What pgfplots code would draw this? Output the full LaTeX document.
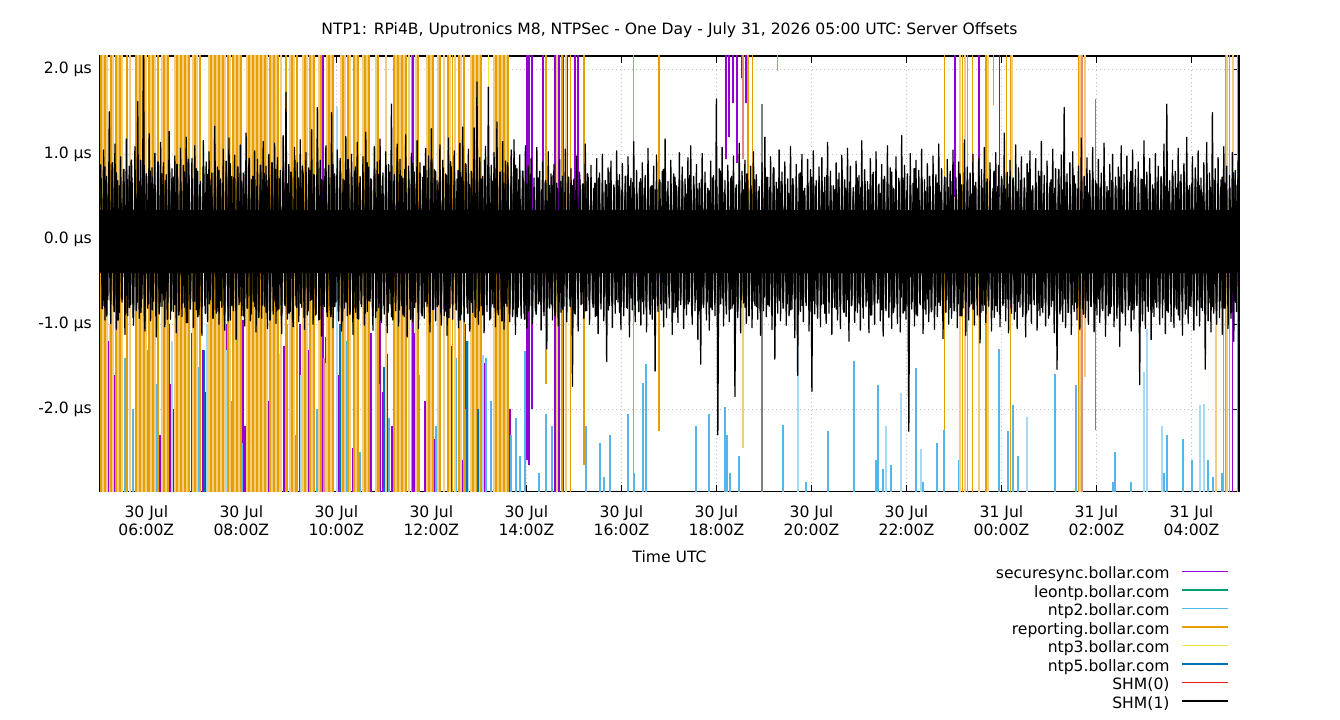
\documentclass[border=0pt]{standalone}
\usepackage{pgfplots}
\pgfplotsset{compat=1.18}
\usepackage{pgfplotstable}
\usepackage{fontspec}
\setmainfont{DejaVu Sans}
\newcommand\fnt{\fontsize{11.7pt}{13.5pt}\selectfont}
\definecolor{cpurple}{RGB}{148,0,211}
\definecolor{cteal}{RGB}{0,158,115}
\definecolor{csky}{RGB}{86,180,233}
\definecolor{corange}{RGB}{230,159,0}
\definecolor{cyellow}{RGB}{240,228,66}
\definecolor{cblue}{RGB}{0,114,178}
\definecolor{cred}{RGB}{229,30,16}
\definecolor{corangel}{RGB}{243,205,125}
\definecolor{cskyl}{RGB}{168,216,244}
\definecolor{csalmon}{RGB}{222,140,122}
\definecolor{cgray}{RGB}{128,128,128}
\definecolor{cgrid}{RGB}{190,190,190}

% SHM(1): alternating high / low samples (spiky envelope)
\pgfplotstableread[row sep=\\, header=false]{
0.88\\-0.82\\1.05\\-0.95\\0.74\\-0.71\\1.50\\-0.99\\0.81\\-0.78\\1.12\\-1.06\\0.69\\-0.86\\0.97\\-0.74\\0.79\\-1.12\\1.18\\-0.90\\
0.86\\-0.77\\0.72\\-1.01\\1.09\\-0.84\\1.62\\-0.93\\0.93\\-0.70\\2.50\\-1.08\\0.77\\-0.81\\1.24\\-0.96\\0.84\\-0.73\\1.01\\-1.15\\
0.70\\-0.88\\1.14\\-0.79\\0.90\\-1.03\\0.76\\-0.72\\1.27\\-0.94\\0.83\\-0.85\\0.98\\-1.10\\0.73\\-0.76\\1.07\\-0.91\\0.87\\-0.80\\
1.20\\-0.98\\0.75\\-0.75\\0.95\\-1.04\\1.10\\-0.83\\0.80\\-0.89\\0.68\\-1.13\\1.16\\-0.78\\0.91\\-0.97\\1.03\\-0.71\\0.78\\-0.92\\
1.33\\-0.87\\0.85\\-1.00\\0.71\\-0.80\\1.06\\-1.07\\0.92\\-0.74\\1.19\\-0.95\\0.74\\-0.84\\0.99\\-1.18\\0.82\\-0.77\\1.11\\-0.90\\
0.78\\-1.02\\1.25\\-0.81\\0.89\\-0.96\\0.70\\-0.73\\1.04\\-1.09\\0.94\\-0.86\\0.76\\-0.93\\1.15\\-0.79\\0.86\\-1.05\\1.00\\-0.75\\
0.73\\-0.88\\1.13\\-0.99\\0.96\\-0.82\\0.81\\-1.11\\1.22\\-0.76\\1.73\\-0.94\\0.88\\-0.85\\0.72\\-1.03\\1.08\\-0.78\\0.90\\-0.97\\
1.17\\-0.80\\0.79\\-1.06\\1.02\\-0.89\\0.84\\-0.72\\1.29\\-1.00\\0.75\\-0.87\\1.55\\-0.95\\0.93\\-1.14\\0.69\\-0.79\\1.10\\-0.91\\
0.87\\-0.83\\1.49\\-1.04\\0.77\\-0.74\\1.05\\-0.96\\0.95\\-1.08\\0.71\\-0.81\\1.21\\-0.90\\0.83\\-0.77\\1.00\\-1.12\\0.80\\-0.86\\
1.14\\-0.94\\0.74\\-0.79\\0.97\\-1.01\\1.26\\-0.85\\0.85\\-0.73\\0.70\\-1.07\\1.09\\-0.92\\0.91\\-0.80\\1.18\\-0.98\\0.78\\-0.88\\
1.03\\-1.10\\0.88\\-0.76\\1.59\\-0.95\\0.76\\-0.84\\1.12\\-1.02\\0.94\\-0.78\\0.72\\-0.91\\1.23\\-1.15\\0.86\\-0.82\\1.01\\-0.97\\
0.79\\-0.74\\1.16\\-1.05\\0.90\\-0.87\\0.73\\-0.93\\1.07\\-0.79\\0.98\\-1.09\\1.30\\-0.83\\0.82\\-0.96\\0.69\\-0.77\\1.11\\-1.01\\
0.93\\-0.90\\0.77\\-1.13\\1.19\\-0.81\\0.85\\-0.94\\1.04\\-0.75\\0.71\\-1.04\\1.13\\-0.88\\1.32\\-0.97\\0.89\\-0.80\\1.06\\-1.08\\
0.80\\-0.86\\1.31\\-0.92\\1.85\\-1.00\\0.96\\-0.78\\0.74\\-1.10\\1.09\\-0.85\\1.79\\-0.95\\0.87\\-0.76\\1.02\\-1.03\\1.38\\-0.89\\
0.78\\-0.82\\1.15\\-1.06\\0.92\\-0.79\\0.70\\-0.97\\1.05\\-0.91\\1.17\\-1.12\\0.83\\-0.80\\0.99\\-0.93\\0.75\\-0.87\\1.10\\-1.05\\
0.86\\-0.78\\0.95\\-0.99\\0.72\\-0.84\\1.08\\-0.76\\0.80\\-1.07\\0.91\\-0.90\\0.68\\-1.29\\1.03\\-0.81\\0.77\\-0.95\\0.88\\-0.73\\
0.66\\-1.02\\0.94\\-0.86\\0.74\\-0.79\\1.06\\-0.97\\0.61\\-0.70\\0.83\\-1.73\\0.71\\-0.88\\0.98\\-1.08\\0.79\\-0.77\\0.65\\-0.93\\
1.12\\-0.84\\0.73\\-1.00\\0.87\\-0.75\\0.60\\-0.91\\0.95\\-1.11\\0.78\\-0.82\\1.00\\-0.96\\0.69\\-1.44\\0.84\\-0.78\\0.92\\-1.04\\
0.64\\-0.87\\1.04\\-0.74\\0.76\\-1.06\\0.89\\-0.90\\0.58\\-0.80\\0.97\\-1.15\\0.72\\-0.83\\1.15\\-0.97\\0.81\\-0.72\\0.67\\-1.01\\
0.90\\-0.88\\0.75\\-1.09\\1.07\\-0.79\\0.62\\-0.94\\0.86\\-1.55\\0.99\\-0.85\\0.70\\-0.76\\0.80\\-1.03\\1.18\\-0.92\\0.68\\-0.81\\
0.93\\-1.12\\0.77\\-0.86\\0.63\\-0.98\\1.02\\-0.77\\0.85\\-1.05\\0.71\\-0.89\\0.96\\-0.73\\1.10\\-1.00\\0.74\\-0.84\\0.88\\-1.18\\
0.66\\-1.47\\1.01\\-0.80\\0.79\\-0.95\\0.60\\-1.07\\0.92\\-0.83\\0.75\\-0.90\\1.65\\-2.30\\0.83\\-0.76\\1.08\\-1.02\\0.69\\-0.88\\
0.87\\-0.97\\0.72\\-0.81\\0.98\\-1.85\\0.64\\-0.92\\1.13\\-1.10\\0.80\\-0.75\\0.93\\-0.99\\0.70\\-0.86\\0.86\\-1.04\\1.03\\-0.78\\
0.76\\-0.94\\0.62\\-1.13\\0.90\\-0.84\\1.20\\-0.91\\0.73\\-0.79\\0.97\\-1.06\\0.84\\-1.41\\0.67\\-0.87\\1.05\\-0.96\\0.79\\-0.74\\
0.91\\-1.01\\0.71\\-0.90\\1.09\\-0.82\\0.64\\-1.16\\0.88\\-1.60\\0.77\\-0.85\\1.00\\-0.97\\0.60\\-0.78\\0.94\\-1.08\\0.82\\-1.79\\
1.04\\-0.88\\0.69\\-0.93\\0.85\\-1.03\\0.96\\-0.76\\0.73\\-0.99\\1.14\\-0.87\\0.80\\-1.12\\0.63\\-0.80\\0.90\\-0.95\\0.78\\-1.05\\
0.99\\-0.83\\0.70\\-0.91\\1.07\\-1.20\\0.86\\-0.77\\0.61\\-0.98\\0.92\\-0.86\\0.75\\-1.07\\1.16\\-0.93\\0.82\\-0.79\\0.68\\-1.10\\
0.95\\-0.89\\0.79\\-1.00\\1.03\\-0.75\\0.65\\-0.96\\0.88\\-1.14\\0.74\\-0.84\\1.10\\-0.92\\0.84\\-1.05\\0.60\\-0.80\\0.97\\-0.99\\
0.72\\-1.09\\1.22\\-0.87\\0.87\\-0.94\\0.77\\-2.26\\1.01\\-0.82\\0.66\\-1.02\\0.93\\-0.90\\0.81\\-0.77\\1.06\\-1.11\\0.70\\-0.88\\
0.89\\-0.97\\0.62\\-0.83\\0.98\\-1.06\\0.76\\-0.91\\1.12\\-0.78\\0.83\\-1.17\\0.69\\-0.86\\0.94\\-1.00\\0.80\\-0.93\\1.05\\-0.80\\
0.73\\-1.04\\0.91\\-0.90\\0.64\\-0.81\\1.17\\-1.13\\0.85\\-0.95\\0.78\\-0.76\\1.00\\-1.01\\0.67\\-0.89\\0.95\\-1.22\\0.82\\-0.84\\
1.08\\-0.98\\0.71\\-0.79\\0.90\\-1.08\\0.60\\-0.92\\1.02\\-0.85\\0.87\\-1.03\\0.74\\-0.78\\1.25\\-0.96\\0.79\\-1.10\\0.93\\-0.87\\
0.68\\-0.94\\1.11\\-1.05\\0.84\\-0.80\\0.97\\-0.91\\0.72\\-1.15\\0.89\\-0.83\\1.04\\-0.99\\0.63\\-0.77\\0.95\\-1.07\\0.80\\-0.90\\
1.15\\-0.86\\0.75\\-1.02\\0.92\\-0.93\\0.66\\-0.79\\1.06\\-1.10\\0.83\\-1.53\\0.70\\-0.88\\0.99\\-0.97\\1.55\\-1.04\\0.77\\-0.81\\
0.90\\-1.12\\1.03\\-0.85\\0.65\\-0.95\\0.86\\-1.06\\1.19\\-0.82\\0.74\\-0.92\\0.96\\-1.00\\0.81\\-0.76\\1.08\\-1.09\\0.69\\-0.89\\
0.94\\-0.98\\0.78\\-0.84\\1.13\\-1.14\\0.62\\-0.90\\0.88\\-0.79\\1.00\\-1.03\\0.73\\-0.93\\0.85\\-1.26\\1.10\\-0.87\\0.76\\-1.01\\
0.98\\-0.83\\0.67\\-1.08\\1.05\\-0.94\\0.82\\-0.78\\0.91\\-1.71\\0.71\\-0.96\\1.16\\-1.05\\0.79\\-0.85\\0.95\\-1.18\\0.64\\-0.91\\
1.01\\-0.80\\0.86\\-1.00\\0.74\\-0.92\\1.12\\-1.11\\1.59\\-0.86\\0.69\\-0.97\\0.93\\-1.04\\0.80\\-0.82\\1.07\\-0.95\\0.76\\-1.13\\
0.89\\-0.88\\1.20\\-0.99\\0.63\\-0.79\\0.97\\-1.07\\0.84\\-0.90\\1.04\\-1.02\\0.72\\-0.84\\0.90\\-1.53\\1.14\\-0.96\\0.78\\-1.09\\
1.49\\-0.87\\0.83\\-1.00\\0.96\\-0.92\\0.70\\-1.12\\1.09\\-0.81\\0.86\\-1.05\\0.75\\-0.93\\1.02\\-1.20\\0.81\\-0.85\\0.92\\-0.98\\
}\band

% SHM(1): further samples (dense inner envelope)
\pgfplotstableread[row sep=\\, header=false]{
0.72\\-0.78\\0.85\\-0.90\\0.66\\-0.72\\0.90\\-0.85\\0.78\\-0.95\\0.63\\-0.70\\0.82\\-0.88\\0.70\\-0.80\\0.93\\-0.92\\0.75\\-0.74\\0.68\\-0.86\\0.87\\-0.97\\0.74\\-0.76\\0.80\\-0.83\\0.65\\-0.90\\0.91\\-0.79\\0.77\\-0.71\\0.69\\-0.94\\0.84\\-0.84\\0.73\\-0.77\\
0.88\\-0.89\\0.67\\-0.75\\0.79\\-0.98\\0.94\\-0.82\\0.71\\-0.73\\0.83\\-0.91\\0.64\\-0.80\\0.86\\-0.87\\0.76\\-0.76\\0.70\\-0.93\\0.92\\-0.85\\0.81\\-0.72\\0.66\\-0.89\\0.78\\-0.96\\0.89\\-0.78\\0.73\\-0.84\\0.85\\-0.74\\0.68\\-0.90\\0.80\\-0.81\\0.95\\-0.88\\
0.74\\-0.79\\0.62\\-0.92\\0.87\\-0.77\\0.77\\-0.86\\0.69\\-0.95\\0.90\\-0.73\\0.82\\-0.83\\0.71\\-0.90\\0.84\\-0.78\\0.65\\-0.87\\0.79\\-0.97\\0.93\\-0.80\\0.72\\-0.75\\0.86\\-0.92\\0.67\\-0.84\\0.81\\-0.71\\0.76\\-0.89\\0.91\\-0.94\\0.70\\-0.77\\0.83\\-0.86\\
0.64\\-0.91\\0.88\\-0.79\\0.75\\-0.85\\0.80\\-0.96\\0.69\\-0.74\\0.94\\-0.88\\0.73\\-0.81\\0.85\\-0.93\\0.66\\-0.76\\0.78\\-0.87\\0.90\\-0.72\\0.71\\-0.90\\0.83\\-0.84\\0.76\\-0.95\\0.63\\-0.78\\0.87\\-0.86\\0.79\\-0.91\\0.68\\-0.75\\0.92\\-0.83\\0.74\\-0.89\\
0.82\\-0.77\\0.70\\-0.94\\0.89\\-0.80\\0.65\\-0.86\\0.77\\-0.90\\0.86\\-0.73\\0.72\\-0.97\\0.95\\-0.82\\0.80\\-0.79\\0.67\\-0.88\\0.84\\-0.85\\0.75\\-0.92\\0.91\\-0.76\\0.69\\-0.83\\0.81\\-0.95\\0.73\\-0.78\\0.88\\-0.87\\0.64\\-0.74\\0.78\\-0.91\\0.85\\-0.84\\
0.71\\-0.89\\0.93\\-0.77\\0.76\\-0.93\\0.68\\-0.80\\0.83\\-0.86\\0.79\\-0.96\\0.66\\-0.75\\0.90\\-0.88\\0.74\\-0.82\\0.87\\-0.91\\0.70\\-0.78\\0.80\\-0.94\\0.65\\-0.84\\0.76\\-0.79\\0.61\\-0.88\\0.72\\-0.73\\0.58\\-0.85\\0.69\\-0.80\\0.63\\-0.76\\0.75\\-0.90\\
0.60\\-0.74\\0.68\\-0.82\\0.55\\-0.68\\0.73\\-0.79\\0.63\\-0.87\\0.58\\-0.70\\0.70\\-0.76\\0.65\\-0.84\\0.77\\-0.72\\0.59\\-0.80\\0.66\\-0.90\\0.72\\-0.75\\0.56\\-0.67\\0.64\\-0.83\\0.79\\-0.78\\0.61\\-0.71\\0.69\\-0.86\\0.57\\-0.74\\0.74\\-0.81\\0.62\\-0.69\\
0.67\\-0.77\\0.54\\-0.85\\0.71\\-0.73\\0.60\\-0.80\\0.76\\-0.88\\0.63\\-0.70\\0.58\\-0.78\\0.69\\-0.83\\0.82\\-0.75\\0.56\\-0.68\\0.65\\-0.86\\0.73\\-0.79\\0.61\\-0.72\\0.68\\-0.81\\0.53\\-0.76\\0.75\\-0.89\\0.64\\-0.71\\0.59\\-0.84\\0.70\\-0.77\\0.66\\-0.73\\
0.57\\-0.80\\0.72\\-0.74\\0.62\\-0.87\\0.80\\-0.69\\0.55\\-0.78\\0.67\\-0.82\\0.74\\-0.76\\0.60\\-0.85\\0.69\\-0.71\\0.58\\-0.80\\0.77\\-0.90\\0.63\\-0.73\\0.70\\-0.79\\0.56\\-0.84\\0.66\\-0.68\\0.73\\-0.77\\0.61\\-0.86\\0.84\\-0.75\\0.59\\-0.72\\0.68\\-0.81\\
0.64\\-0.76\\0.54\\-0.83\\0.71\\-0.70\\0.60\\-0.88\\0.78\\-0.78\\0.57\\-0.74\\0.66\\-0.85\\0.73\\-0.72\\0.62\\-0.80\\0.69\\-0.77\\0.55\\-0.87\\0.75\\-0.73\\0.63\\-0.69\\0.58\\-0.82\\0.70\\-0.79\\0.81\\-0.86\\0.60\\-0.71\\0.67\\-0.78\\0.56\\-0.84\\0.72\\-0.75\\
0.61\\-0.80\\0.68\\-0.72\\0.58\\-0.89\\0.76\\-0.77\\0.63\\-0.70\\0.54\\-0.83\\0.70\\-0.81\\0.65\\-0.74\\0.79\\-0.86\\0.59\\-0.76\\0.67\\-0.68\\0.72\\-0.84\\0.57\\-0.79\\0.64\\-0.73\\0.83\\-0.88\\0.60\\-0.75\\0.69\\-0.82\\0.56\\-0.70\\0.74\\-0.85\\0.62\\-0.78\\
0.66\\-0.74\\0.55\\-0.87\\0.73\\-0.71\\0.61\\-0.80\\0.68\\-0.84\\0.58\\-0.76\\0.77\\-0.90\\0.64\\-0.73\\0.70\\-0.79\\0.53\\-0.82\\0.63\\-0.69\\0.75\\-0.86\\0.60\\-0.77\\0.67\\-0.72\\0.57\\-0.83\\0.80\\-0.78\\0.62\\-0.88\\0.71\\-0.75\\0.59\\-0.70\\0.65\\-0.81\\
0.72\\-0.85\\0.56\\-0.73\\0.69\\-0.79\\0.61\\-0.87\\0.78\\-0.76\\0.58\\-0.71\\0.66\\-0.84\\0.74\\-0.80\\0.54\\-0.75\\0.63\\-0.89\\0.70\\-0.72\\0.60\\-0.78\\0.82\\-0.83\\0.57\\-0.70\\0.67\\-0.86\\0.64\\-0.77\\0.75\\-0.74\\0.59\\-0.81\\0.68\\-0.88\\0.62\\-0.72\\
0.55\\-0.79\\0.71\\-0.84\\0.65\\-0.70\\0.60\\-0.82\\0.76\\-0.77\\0.57\\-0.87\\0.69\\-0.73\\0.63\\-0.80\\0.73\\-0.85\\0.58\\-0.71\\0.66\\-0.78\\0.80\\-0.83\\0.61\\-0.75\\0.54\\-0.88\\0.70\\-0.72\\0.64\\-0.79\\0.77\\-0.86\\0.59\\-0.74\\0.67\\-0.81\\0.72\\-0.70\\
0.62\\-0.84\\0.56\\-0.76\\0.74\\-0.80\\0.60\\-0.89\\0.68\\-0.73\\0.79\\-0.82\\0.58\\-0.78\\0.65\\-0.85\\0.71\\-0.71\\0.63\\-0.80\\0.55\\-0.87\\0.76\\-0.75\\0.61\\-0.79\\0.69\\-0.84\\0.57\\-0.72\\0.73\\-0.81\\0.66\\-0.77\\0.60\\-0.86\\0.78\\-0.74\\0.64\\-0.80\\
}\bandb

% spike tables: time (h), lower end, upper end
\pgfplotstableread[row sep=\\]{
h lo hi\\
5.193 -5 -1.2\\ 5.341 -5 -1.6\\ 5.593 -5 -1.05\\ 5.888 -5 -0.95\\ 5.93 -5 -1.9\\ 6.288 -5 -2.3\\ 6.477 -5 -1.0\\ 6.519 -5 -1.7\\
6.583 -5 -2.0\\ 6.962 -5 -1.1\\ 7.004 -5 -2.4\\ 7.193 -5 -1.3\\ 7.256 -5 -1.8\\ 7.551 -5 -2.1\\ 7.677 -5 -1.0\\ 7.74 -5 -1.5\\
8.035 -5 -0.95\\ 8.077 -5 -2.2\\ 8.309 -5 -1.4\\ 8.519 -5 -1.05\\ 8.561 -5 -1.9\\ 8.772 -5 -2.5\\ 8.898 -5 -1.25\\ 9.088 -5 -1.7\\
9.235 -5 -1.0\\ 9.424 -5 -1.3\\ 9.488 -5 -2.0\\ 9.72 -5 5\\ 9.783 -5 -1.15\\ 10.035 -5 -1.6\\ 10.351 -5 -2.45\\ 10.73 -5 -1.1\\
10.919 -5 -0.95\\ 10.982 -5 -1.8\\ 11.067 -5 -1.35\\ 11.172 -5 -2.2\\ 11.403 -5 -1.5\\ 11.614 -5 5\\ 11.635 -5 -1.1\\ 11.866 -5 -1.9\\
12.055 -5 -2.35\\ 12.414 -5 -1.25\\ 12.666 -5 -2.6\\ 12.708 -5 -1.0\\ 12.877 -5 -1.7\\ 13.129 -5 -1.45\\ 13.656 -5 -2.0\\
14.014 -2.6 5\\ 14.056 -2.65 5\\ 14.119 -2.0 5\\ 14.351 0 5\\ 14.603 -5 5\\ 14.687 -5 5\\ 14.771 -5 5\\
14.855 0 5\\ 15.024 0 5\\ 15.087 0 5\\ 18.202 0.94 5\\ 18.266 1.2 5\\ 18.35 1.6 5\\ 18.434 0.9 5\\ 18.539 1.9 5\\ 18.623 1.6 5\\
23.023 0.5 5\\ 23.528 0.5 5\\ 23.95 0.5 5\\ 28.854 -5 0\\
}\tPU

\pgfplotstableread[row sep=\\]{
h lo hi\\
5.109 -5 -1.9\\ 5.299 -5 -2.3\\ 5.551 -5 -1.4\\ 5.72 -5 -2.0\\ 6.035 -5 -1.3\\ 6.077 -5 -2.1\\ 6.225 -5 -1.7\\ 6.814 -5 -2.6\\
7.088 -5 -1.5\\ 7.467 -5 -2.2\\ 7.782 -5 -1.9\\ 8.014 -5 -2.4\\ 8.435 -5 -1.8\\ 8.961 -5 -1.0\\ 9.151 -5 -2.3\\ 9.593 -5 -2.0\\
10.224 -5 -1.2\\ 10.498 -5 -2.5\\ 10.898 -5 -1.7\\ 11.109 -5 -2.1\\ 11.74 -5 -1.6\\ 12.098 -5 -2.2\\ 12.519 -5 -1.4\\ 12.729 -5 -2.0\\
13.151 -5 -1.4\\ 13.256 -5 -1.9\\ 13.677 -5 -2.3\\ 13.424 -5 -2.0\\ 13.782 -5 -2.1\\ 13.866 -5 -2.55\\ 13.972 -5 -1.32\\ 14.266 -5 -2.75\\
14.414 -5 -2.06\\ 14.54 -5 -2.2\\ 15.256 -5 -2.2\\ 15.55 -5 -2.4\\ 15.635 -5 -2.8\\ 15.761 -5 -2.3\\ 16.14 -5 -2.05\\ 16.266 -5 -2.75\\
16.455 -5 -1.69\\ 16.518 -5 -1.47\\ 17.571 -5 -2.2\\ 17.845 -5 -2.05\\ 18.181 -5 -1.97\\ 18.223 -5 -2.3\\ 18.287 -5 -2.75\\ 18.476 -5 -2.55\\
19.402 -5 -2.19\\ 19.887 -5 -2.85\\ 20.35 -5 -2.25\\ 20.897 -5 -1.43\\ 21.36 -5 -2.6\\ 21.402 -5 -1.71\\ 21.507 -5 -2.7\\ 21.676 -5 -2.65\\
22.202 -5 -1.52\\ 22.349 -5 -2.85\\ 22.644 -5 -2.4\\ 22.792 -5 -2.24\\ 23.107 -5 -2.6\\ 23.95 -5 -1.29\\ 24.139 -5 -2.26\\ 24.244 -5 -1.95\\
24.349 -5 -2.55\\ 25.128 -5 -1.58\\ 25.57 -5 -1.71\\ 26.349 -5 -2.85\\ 26.391 -5 -2.5\\ 26.728 -5 -2.85\\ 27.422 -5 -2.75\\ 27.485 -5 -2.3\\
27.822 -5 -2.35\\ 28.012 -5 -2.6\\ 28.349 -5 -2.6\\ 28.454 -5 -2.8\\ 28.644 -5 -2.75\\
}\tSK

\pgfplotstableread[row sep=\\]{
h lo hi\\
5.235 -5 -1.0\\ 6.0 -5 -0.9\\ 6.541 -5 -1.2\\ 7.277 -5 -1.0\\ 7.698 -5 -1.3\\ 8.267 -5 -1.15\\ 8.793 -5 -1.35\\ 9.256 -5 -1.6\\
9.761 -5 -1.45\\ 10.014 -5 1.56\\ 10.666 -5 -1.05\\ 11.277 -5 -1.25\\ 12.266 -5 -1.0\\ 12.771 -5 -1.2\\ 13.087 -5 -1.36\\ 19.718 -5 -0.55\\
21.57 -5 -2.2\\ 21.886 -5 -1.81\\ 22.307 -5 -2.47\\ 24.539 -5 -2.09\\ 27.0 -5 -1.56\\ 27.064 -5 -1.06\\ 27.38 -5 -2.2\\ 28.18 -5 -1.95\\
28.265 -5 -1.94\\
}\tSL

\pgfplotstableread[row sep=\\]{
h lo hi\\
5.046 -5 5\\ 5.13 -5 5\\ 5.257 -5 5\\ 5.362 -5 5\\ 5.446 -5 5\\ 5.593 -5 5\\ 5.783 -5 5\\ 5.867 -5 5\\ 5.951 -5 5\\ 6.056 -5 5\\
6.141 -5 5\\ 6.246 -5 5\\ 6.372 -5 5\\ 6.456 -5 5\\ 6.646 -5 5\\ 6.73 -5 5\\ 6.814 -5 5\\ 6.898 -5 5\\ 7.025 -5 5\\ 7.13 -5 5\\
7.362 -5 5\\ 7.446 -5 5\\ 7.53 -5 5\\ 7.614 -5 5\\ 7.719 -5 5\\ 7.825 -5 5\\ 7.909 -5 5\\ 7.993 -5 5\\ 8.161 -5 5\\ 8.246 -5 5\\
8.33 -5 5\\ 8.414 -5 5\\ 8.498 -5 5\\ 8.604 -5 5\\ 8.688 -5 5\\ 8.772 -5 5\\ 8.94 -5 5\\ 9.067 -5 5\\ 9.172 -5 5\\ 9.34 -5 5\\
9.446 -5 5\\ 9.53 -5 5\\ 9.677 -5 5\\ 9.845 -5 5\\ 9.93 -5 5\\ 10.14 -5 5\\ 10.245 -5 5\\ 10.372 -5 5\\ 10.456 -5 5\\ 10.603 -5 5\\
10.687 -5 5\\ 10.877 -5 5\\ 11.214 -5 5\\ 11.298 -5 5\\ 11.382 -5 5\\ 11.466 -5 5\\ 11.572 -5 5\\ 11.719 -5 5\\ 11.95 -5 5\\ 12.035 -5 5\\
12.182 -5 5\\ 12.35 -5 5\\ 12.435 -5 5\\ 12.582 -5 5\\ 12.687 -5 5\\ 12.877 -5 5\\ 12.961 -5 5\\ 13.045 -5 5\\ 13.361 -5 5\\ 13.445 -5 5\\
13.529 -5 5\\ 13.613 -5 5\\
14.413 -1.7 5\\ 14.75 -5 5\\ 14.919 -5 5\\ 15.213 -2.65 5\\ 16.245 -5 5\\ 16.792 -2.26 5\\ 18.665 0 5\\ 18.75 -0.85 5\\ 19.277 1.98 5\\
22.792 -2.24 5\\ 23.17 -5 5\\ 23.276 -5 5\\ 23.381 -5 5\\ 23.675 -5 5\\ 23.823 1.58 5\\ 24.097 0 5\\ 24.181 -5 5\\ 25.612 -5 5\\
28.665 -5 0\\ 28.707 -5 5\\ 28.791 -5 5\\ 28.96 -5 5\\
}\tOS

\pgfplotstableread[row sep=\\]{
h lo hi\\
5.088 -5 5\\ 5.172 -5 5\\ 5.299 -5 5\\ 5.404 -5 5\\ 5.488 -5 5\\ 5.657 -5 5\\ 5.825 -5 5\\ 5.909 -5 5\\ 5.993 -5 5\\ 6.099 -5 5\\
6.183 -5 5\\ 6.33 -5 5\\ 6.414 -5 5\\ 6.604 -5 5\\ 6.688 -5 5\\ 6.772 -5 5\\ 6.856 -5 5\\ 6.983 -5 5\\ 7.067 -5 5\\ 7.319 -5 5\\
7.404 -5 5\\ 7.488 -5 5\\ 7.572 -5 5\\ 7.656 -5 5\\ 7.761 -5 5\\ 7.867 -5 5\\ 7.951 -5 5\\ 8.119 -5 5\\ 8.204 -5 5\\ 8.288 -5 5\\
8.372 -5 5\\ 8.456 -5 5\\ 8.54 -5 5\\ 8.646 -5 5\\ 8.73 -5 5\\ 8.835 -5 5\\ 9.025 -5 5\\ 9.109 -5 5\\ 9.298 -5 5\\ 9.382 -5 5\\
9.488 -5 5\\ 9.635 -5 5\\ 9.803 -5 5\\ 9.888 -5 5\\ 10.098 -5 5\\ 10.182 -5 5\\ 10.288 -5 5\\ 10.414 -5 5\\ 10.561 -5 5\\ 10.645 -5 5\\
10.835 -5 5\\ 11.045 -5 5\\ 11.256 -5 5\\ 11.34 -5 5\\ 11.424 -5 5\\ 11.529 -5 5\\ 11.677 -5 5\\ 11.908 -5 5\\ 11.993 -5 5\\ 12.14 -5 5\\
12.266 -5 5\\ 12.393 -5 5\\ 12.498 -5 5\\ 12.624 -5 5\\ 12.835 -5 5\\ 12.919 -5 5\\ 13.003 -5 5\\ 13.319 -5 5\\ 13.403 -5 5\\ 13.487 -5 5\\
13.571 -5 5\\
14.645 -5 5\\ 14.834 -5 5\\ 18.56 -2.45 0\\ 23.129 -5 5\\ 23.234 -5 5\\ 23.528 -5 0\\ 23.717 -5 5\\ 24.223 0 5\\ 25.654 -5 5\\ 25.759 -1.62 5\\
28.517 -5 0\\ 28.749 -5 5\\ 28.875 0 5\\
}\tOL

\pgfplotstableread[row sep=\\]{
h lo hi\\
13.193 1.8 5\\
}\tYE

\pgfplotstableread[row sep=\\]{
h lo hi\\
7.215 -5 -1.3\\ 10.077 -5 -1.0\\ 11.003 -5 -1.5\\ 12.75 -5 -1.2\\ 12.982 -5 -2.0\\
}\tNB

\pgfplotstableread[row sep=\\]{
h lo hi\\
18.56 0.94 5\\ 25.696 -5 5\\ 9.74 -5 -1.4\\
}\tSA

\pgfplotstableread[row sep=\\]{
h lo hi\\
18.96 -5 1.59\\ 25.98 -2.24 1.65\\
}\tGR

\begin{document}
\begin{tikzpicture}
\path[use as bounding box] (-75pt,-171.375pt) rectangle (930pt,368.625pt);
\begin{axis}[
  at={(0,0)}, anchor=south west,
  scale only axis, width=854.25pt, height=326.625pt,
  xmin=5.025, xmax=29.0, ymin=-2.967, ymax=2.156,
  xtick={6,8,10,12,14,16,18,20,22,24,26,28},
  xticklabels={{30 Jul\\06:00Z},{30 Jul\\08:00Z},{30 Jul\\10:00Z},{30 Jul\\12:00Z},{30 Jul\\14:00Z},{30 Jul\\16:00Z},{30 Jul\\18:00Z},{30 Jul\\20:00Z},{30 Jul\\22:00Z},{31 Jul\\00:00Z},{31 Jul\\02:00Z},{31 Jul\\04:00Z}},
  ytick={-2,-1,0,1,2},
  yticklabels={-2.0 µs,-1.0 µs,0.0 µs,1.0 µs,2.0 µs},
  xticklabel style={font=\fnt, align=center, anchor=north, inner sep=0pt, yshift=-10.6pt},
  yticklabel style={font=\fnt, anchor=east, inner sep=0pt, xshift=-6pt},
  tick align=inside, major tick length=4.9pt,
  tick style={black, line width=0.75pt},
  minor tick num=0,
  axis line style={black, line width=1pt},
  grid=major,
  major grid style={cgrid, line width=0.6pt, dash pattern=on 0.8pt off 2.2pt},
  title={NTP1: RPi4B, Uputronics M8, NTPSec - One Day - July 31, 2026 05:00 UTC: Server Offsets},
  title style={font=\fnt, at={(axis description cs:0.5,1.032)}, anchor=base, inner sep=0pt},
  xlabel={Time UTC},
  xlabel style={font=\fnt, at={(axis description cs:0.5,-0.1619)}, anchor=base, inner sep=0pt},
  legend style={draw=none, fill=none, inner sep=0pt, outer sep=0pt,
    at={(axis description cs:0.9912,-0.1705)}, anchor=north east,
    row sep=0pt, column sep=9pt, font=\fnt,
    nodes={inner sep=0pt, text height=9.6pt, text depth=4.3pt}},
  legend cell align=right,
  legend plot pos=right,
  legend image code/.code={\draw[#1, line width=1.1pt] (0pt,2.8pt) -- (34.5pt,2.8pt);},
]
\addplot[forget plot, draw=cpurple, line width=0.85pt, quiver={u=0, v=\thisrow{hi}-\thisrow{lo}}] table[x=h, y=lo] {\tPU};
\addplot[forget plot, draw=cskyl, line width=1.2pt, quiver={u=0, v=\thisrow{hi}-\thisrow{lo}}] table[x=h, y=lo] {\tSL};
\addplot[forget plot, draw=csky, line width=0.9pt, quiver={u=0, v=\thisrow{hi}-\thisrow{lo}}] table[x=h, y=lo] {\tSK};
\addplot[forget plot, draw=corangel, line width=0.95pt, quiver={u=0, v=\thisrow{hi}-\thisrow{lo}}] table[x=h, y=lo] {\tOL};
\addplot[forget plot, draw=corange, line width=0.8pt, quiver={u=0, v=\thisrow{hi}-\thisrow{lo}}] table[x=h, y=lo] {\tOS};
\addplot[forget plot, draw=cyellow, line width=0.8pt, quiver={u=0, v=\thisrow{hi}-\thisrow{lo}}] table[x=h, y=lo] {\tYE};
\addplot[forget plot, draw=cblue, line width=0.8pt, quiver={u=0, v=\thisrow{hi}-\thisrow{lo}}] table[x=h, y=lo] {\tNB};
\addplot[forget plot, draw=csalmon, line width=0.9pt, quiver={u=0, v=\thisrow{hi}-\thisrow{lo}}] table[x=h, y=lo] {\tSA};
\addplot[forget plot, draw=cgray, line width=0.8pt, quiver={u=0, v=\thisrow{hi}-\thisrow{lo}}] table[x=h, y=lo] {\tGR};
\addplot[forget plot, fill=black, draw=none] coordinates {(5.0,-0.4) (29.1,-0.4) (29.1,0.35) (5.0,0.35)} -- cycle;
\addplot[forget plot, black, line width=1.25pt, line join=round] table[x expr=5.045+0.04*\coordindex, y index=0] {\bandb};
\addplot[forget plot, black, line width=0.95pt, line join=round] table[x expr=5.04+0.03*\coordindex, y index=0] {\band};
\addlegendimage{cpurple}\addlegendentry{securesync.bollar.com}
\addlegendimage{cteal}\addlegendentry{leontp.bollar.com}
\addlegendimage{csky}\addlegendentry{ntp2.bollar.com}
\addlegendimage{corange}\addlegendentry{reporting.bollar.com}
\addlegendimage{cyellow}\addlegendentry{ntp3.bollar.com}
\addlegendimage{cblue}\addlegendentry{ntp5.bollar.com}
\addlegendimage{cred}\addlegendentry{SHM(0)}
\addlegendimage{black}\addlegendentry{SHM(1)}
\end{axis}
\end{tikzpicture}
\end{document}
